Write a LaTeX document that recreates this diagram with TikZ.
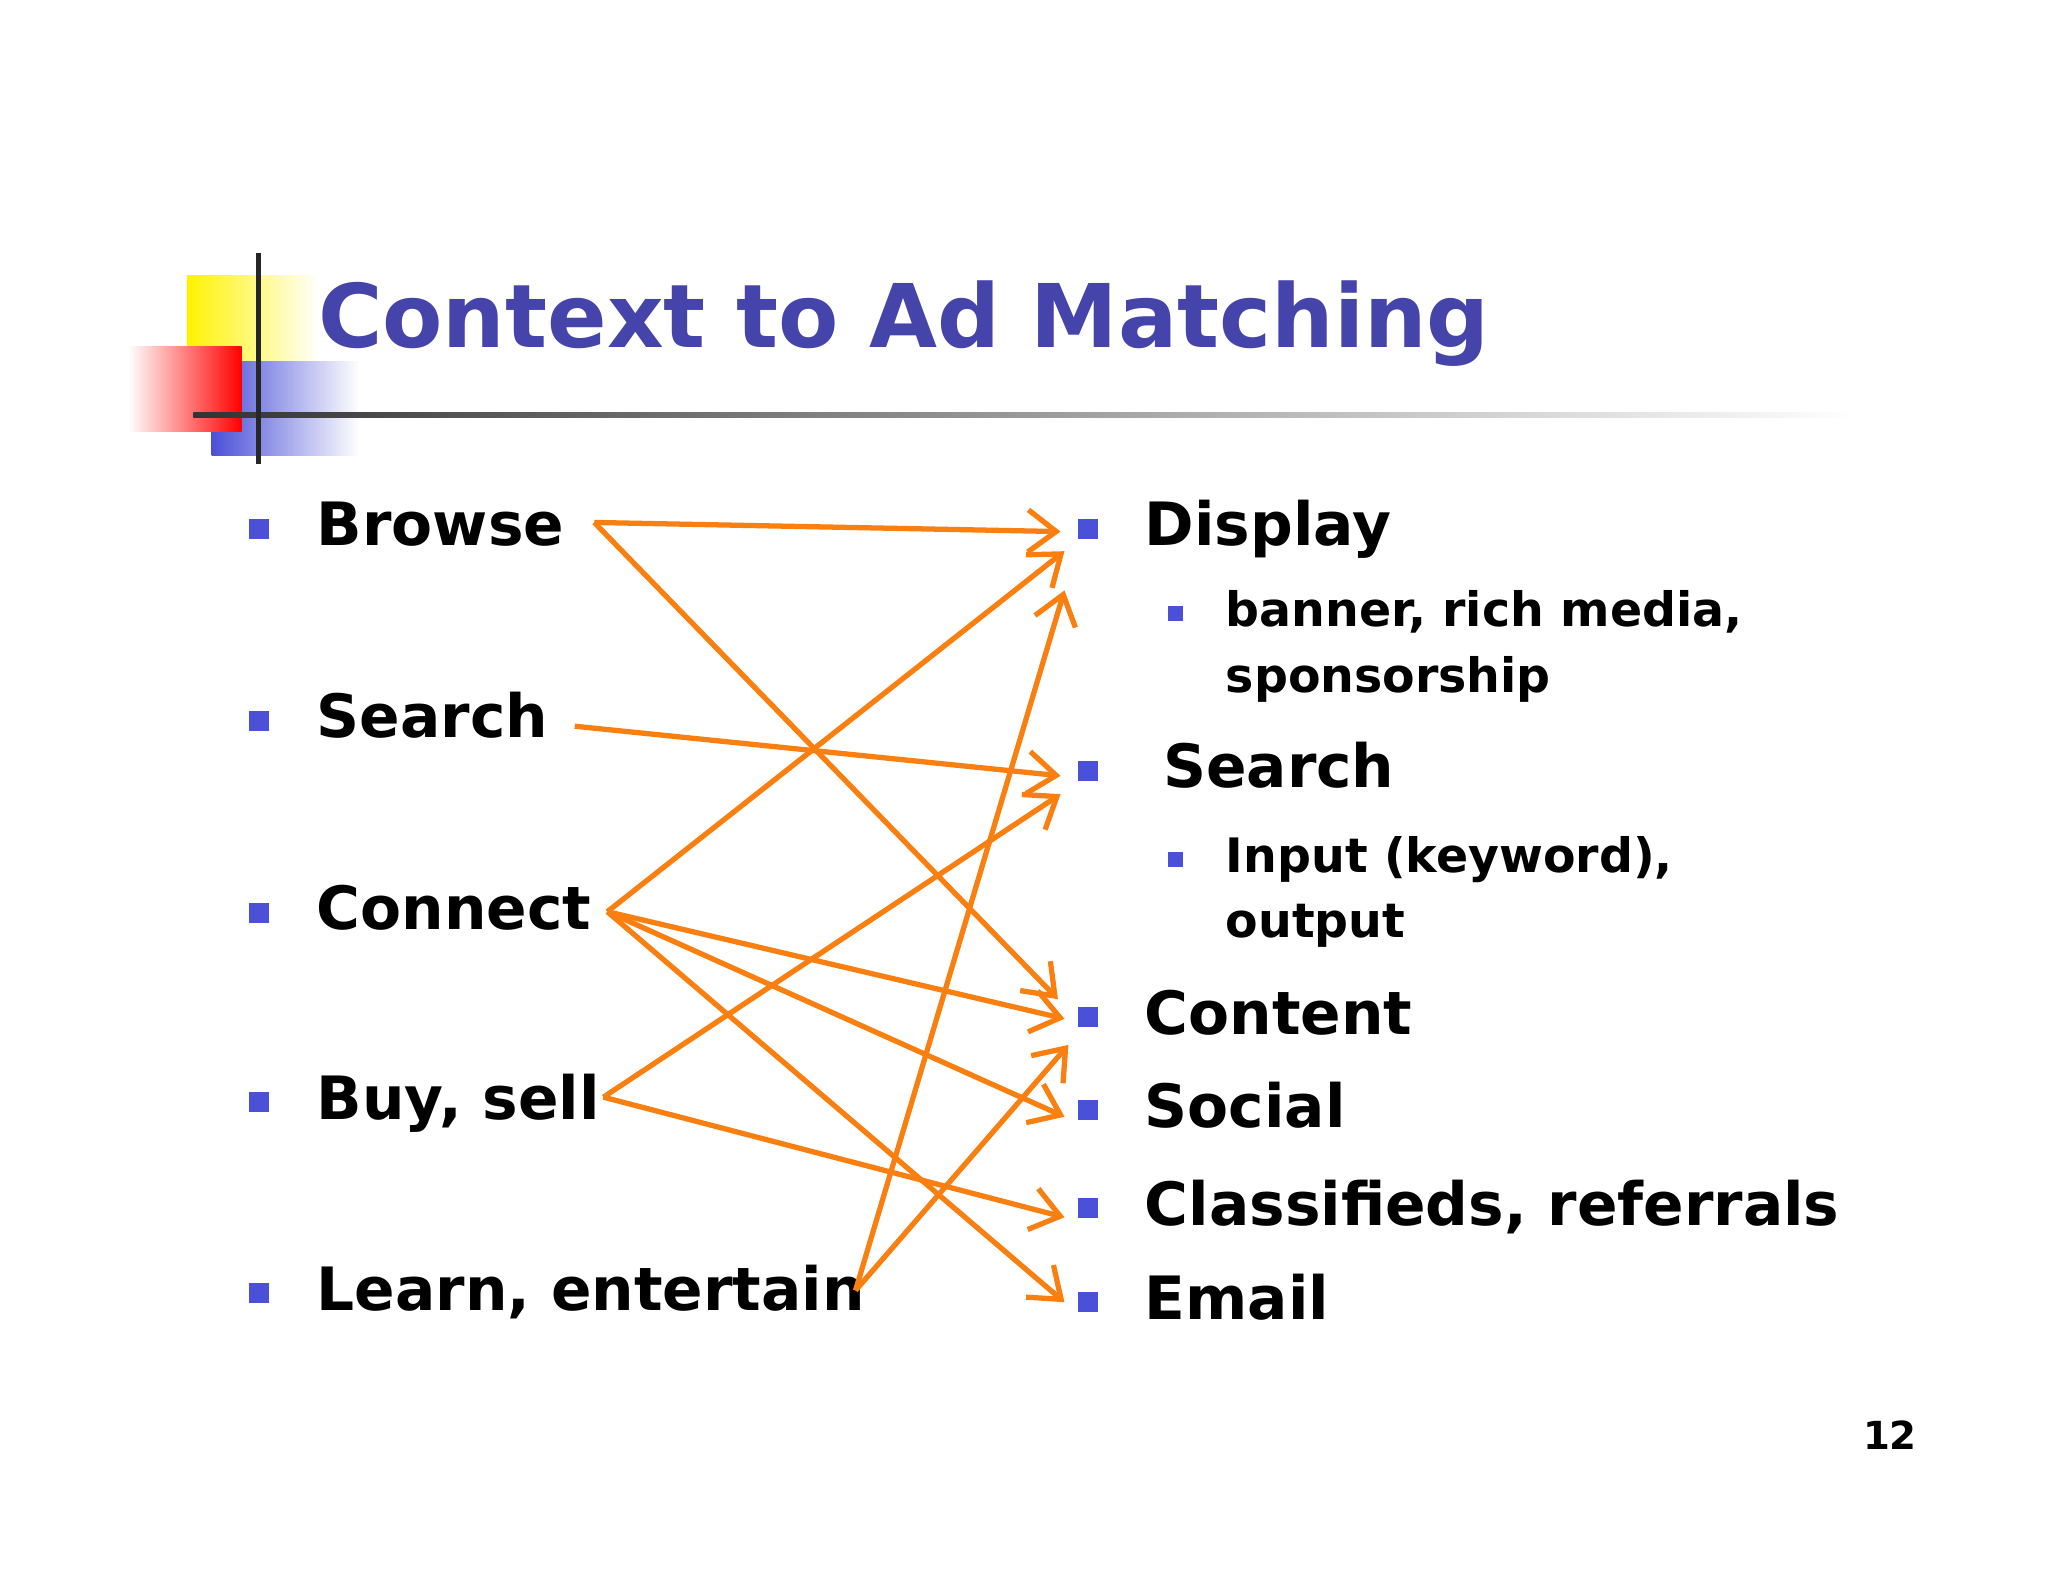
\documentclass[tikz,border=0pt]{standalone}
\usepackage{fontspec}
\setmainfont{DejaVu Sans}
\usetikzlibrary{arrows.meta}
\definecolor{ttl}{HTML}{4444AA}
\definecolor{bul}{HTML}{4A50D8}
\definecolor{arr}{HTML}{F98010}
\begin{document}
\begin{tikzpicture}[x=0.01306cm,y=-0.01306cm,
  main/.style={anchor=base west,inner sep=0pt,font=\fontsize{17}{20}\selectfont\bfseries},
  sub/.style={anchor=base west,inner sep=0pt,font=\fontsize{13.5}{16}\selectfont\bfseries},
  bsq/.style={fill=bul,minimum size=0.2cm,inner sep=0pt},
  ssq/.style={fill=bul,minimum size=0.15cm,inner sep=0pt},
  con/.style={draw=arr,line width=1.5pt,-{Straight Barb[length=8pt,width=12pt,line width=1.5pt]}}]
\useasboundingbox[fill=white] (0,0) rectangle (1568,1211);
% logo
\shade[left color=yellow!90!orange,right color=white] (143,211) rectangle (245,300);
\shade[left color=bul,right color=white] (162,277) rectangle (275,349);
\shade[shading angle=45,left color=white,right color=red] (98,265) rectangle (185,330);
\shade[left color=black!80,right color=white] (148,316) rectangle (1420,320);
\draw[black!85,line width=1.5pt] (198,194) -- (198,355);
\node[anchor=base west,inner sep=0pt,text=ttl,font=\fontsize{25}{30}\selectfont\bfseries] (title) at (243,266) {Context to Ad Matching};
% left
\foreach \n/\y/\t in {l1/418/Browse,l2/565/Search,l3/712/Connect,l4/857/{Buy, sell},l5/1003/{Learn, entertain}}{
  \node[bsq] (b\n) at (198,\y-13) {};
  \node[main] (\n) at (242,\y) {\t};
}
% right
\foreach \n/\y/\x/\t in {r1/418/876/Display,r2/603/890/Search,r3/792/876/Content,r4/863/876/Social,r5/938/876/{Classifieds, referrals},r6/1010/876/Email}{
  \node[bsq] (b\n) at (833,\y-13) {};
  \node[main] (\n) at (\x,\y) {\t};
}
\node[ssq] (s1) at (900,470) {};
\node[sub] (t1) at (938,480) {banner, rich media,};
\node[sub] (t2) at (938,530) {sponsorship};
\node[ssq] (s2) at (900,658) {};
\node[sub] (t3) at (938,668) {Input (keyword),};
\node[sub] (t4) at (938,718) {output};
\node[anchor=base,inner sep=0pt,font=\fontsize{11}{13}\selectfont\bfseries] (pg) at (1447,1110) {12};
% connector points
\coordinate (aB) at (455,400); \coordinate (aS) at (440,556);
\coordinate (aC) at (465,698); \coordinate (aY) at (462,840);
\coordinate (aL) at (655,988);
\coordinate (eD1) at (812,407); \coordinate (eD2) at (815,422); \coordinate (eD3) at (815,452);
\coordinate (eS1) at (812,594); \coordinate (eS2) at (812,608);
\coordinate (eC1) at (810,765); \coordinate (eC2) at (815,780); \coordinate (eC3) at (818,800);
\coordinate (eSo) at (815,855); \coordinate (eCl) at (815,932); \coordinate (eE) at (815,997);
\draw[con] (aB) -- (eD1);
\draw[con] (aB) -- (eC1);
\draw[con] (aS) -- (eS1);
\draw[con] (aC) -- (eD2);
\draw[con] (aC) -- (eC2);
\draw[con] (aC) -- (eSo);
\draw[con] (aC) -- (eE);
\draw[con] (aY) -- (eS2);
\draw[con] (aY) -- (eCl);
\draw[con] (aL) -- (eD3);
\draw[con] (aL) -- (eC3);
\end{tikzpicture}
\end{document}
